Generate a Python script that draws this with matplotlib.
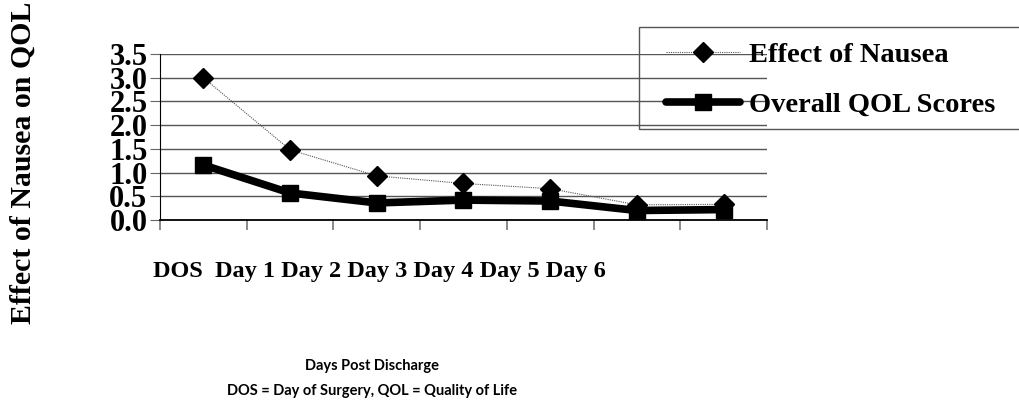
import matplotlib.pyplot as plt
from matplotlib.patches import Rectangle

days = ["DOS", "Day 1", "Day 2", "Day 3", "Day 4", "Day 5", "Day 6"]
nausea = [3.0, 1.48, 0.93, 0.77, 0.66, 0.32, 0.33]
qol = [1.16, 0.57, 0.36, 0.42, 0.40, 0.20, 0.22]
y_ticks = [0.0, 0.5, 1.0, 1.5, 2.0, 2.5, 3.0, 3.5]

W, H = 1020, 405
fig = plt.figure(figsize=(W / 100, H / 100), dpi=100)
ax = fig.add_axes([160 / W, 1 - 220 / H, (767 - 160) / W, (220 - 54) / H])

x = list(range(len(days)))
ax.plot(x, nausea, color="#555555", lw=0.8, ls=(0, (1, 1)),
        marker="D", ms=10, mfc="black", mec="black", label="Effect of Nausea")
ax.plot(x, qol, color="black", lw=5.5, solid_capstyle="round",
        marker="s", ms=12, mfc="black", mec="black", label="Overall QOL Scores")

ax.set_xlim(-0.5, len(days) - 0.5)
ax.set_ylim(0, 3.5)
ax.set_yticks(y_ticks)
ax.set_yticklabels([f"{v:.1f}" for v in y_ticks], family="Liberation Serif",
                   fontweight="bold", fontsize=22)
ax.set_xticks([i - 0.5 for i in range(len(days) + 1)])
ax.set_xticklabels([])
ax.tick_params(axis="x", direction="out", length=7, color="#777777", width=1.2)
ax.tick_params(axis="y", direction="out", length=7, color="#666666", pad=2)
ax.yaxis.grid(True, color="#555555", lw=1)
ax.set_axisbelow(True)
for s in ["top", "right"]:
    ax.spines[s].set_visible(False)
ax.spines["left"].set_color("black")
ax.spines["bottom"].set_color("black")
ax.spines["bottom"].set_linewidth(1.3)

# category labels drawn as one line below the axis
fig.text(153 / W, 1 - 272 / H, "DOS  " + " ".join(days[1:]), family="Liberation Serif",
         fontweight="bold", fontsize=17.5, ha="left", va="center")

fig.text(23 / W, 1 - 163 / H, "Effect of Nausea on QOL", family="Liberation Serif",
         fontweight="bold", fontsize=21.5, rotation=90, ha="center", va="center")

fig.text(372 / W, 1 - 366 / H, "Days Post Discharge", family="Lato",
         fontweight="bold", fontsize=10.5, ha="center", va="center")
fig.text(372 / W, 1 - 391 / H, "DOS = Day of Surgery, QOL = Quality of Life",
         family="Lato", fontweight="bold", fontsize=10.5, ha="center", va="center")

# legend frame drawn separately so it can run off the right edge like the original
fig.patches.append(Rectangle((639 / W, 1 - 129 / H), 400 / W, 102 / H,
                             transform=fig.transFigure, fill=False,
                             edgecolor="#555555", lw=1))
fig.legend(loc="upper left", bbox_to_anchor=(666 / W, 1 - 42 / H),
           prop={"family": "Liberation Serif", "weight": "bold", "size": 20.5},
           frameon=False, handlelength=2.6, handletextpad=0.3,
           labelspacing=0.85, borderpad=0, borderaxespad=0)

fig.savefig("out.png", dpi=100)
